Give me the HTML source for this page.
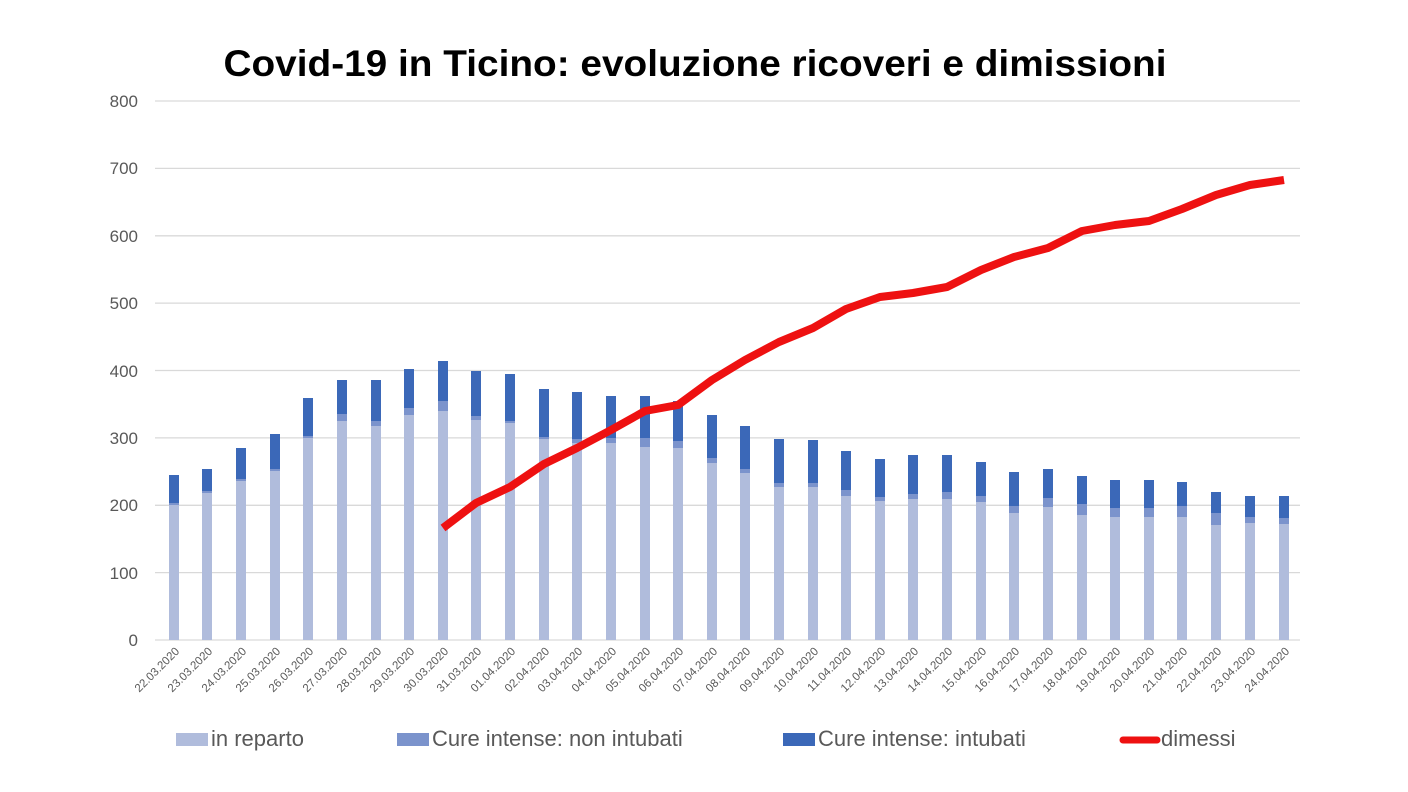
<!DOCTYPE html>
<html><head><meta charset="utf-8"><style>
html,body{margin:0;padding:0;background:#fff;}
svg{display:block;font-family:"Liberation Sans",sans-serif;}
</style></head><body>
<svg width="1408" height="792" viewBox="0 0 1408 792" xmlns="http://www.w3.org/2000/svg">
<rect width="1408" height="792" fill="#fff"/>
<text x="695" y="76" text-anchor="middle" font-size="37" font-weight="bold" fill="#000" textLength="943" lengthAdjust="spacingAndGlyphs">Covid-19 in Ticino: evoluzione ricoveri e  dimissioni</text>
<g stroke="#d9d9d9" stroke-width="1.3">
<line x1="155" x2="1300" y1="101" y2="101"/><line x1="155" x2="1300" y1="168.4" y2="168.4"/>
<line x1="155" x2="1300" y1="235.8" y2="235.8"/><line x1="155" x2="1300" y1="303.1" y2="303.1"/>
<line x1="155" x2="1300" y1="370.5" y2="370.5"/><line x1="155" x2="1300" y1="437.9" y2="437.9"/>
<line x1="155" x2="1300" y1="505.3" y2="505.3"/><line x1="155" x2="1300" y1="572.6" y2="572.6"/>
<line x1="155" x2="1300" y1="640" y2="640"/>
</g>
<g font-size="17" fill="#595959" text-anchor="end">
<text x="138" y="107">800</text><text x="138" y="174">700</text><text x="138" y="242">600</text>
<text x="138" y="309">500</text><text x="138" y="377">400</text><text x="138" y="444">300</text>
<text x="138" y="511">200</text><text x="138" y="579">100</text><text x="138" y="646">0</text>
</g>
<g id="bars">
<rect x="169" y="505" width="10" height="135" fill="#b0bcdc"/><rect x="169" y="503" width="10" height="2" fill="#7b93cc"/><rect x="169" y="475" width="10" height="28" fill="#3b68b8"/>
<rect x="202" y="493" width="10" height="147" fill="#b0bcdc"/><rect x="202" y="491" width="10" height="2" fill="#7b93cc"/><rect x="202" y="469" width="10" height="22" fill="#3b68b8"/>
<rect x="236" y="481" width="10" height="159" fill="#b0bcdc"/><rect x="236" y="479" width="10" height="2" fill="#7b93cc"/><rect x="236" y="448" width="10" height="31" fill="#3b68b8"/>
<rect x="270" y="471" width="10" height="169" fill="#b0bcdc"/><rect x="270" y="469" width="10" height="2" fill="#7b93cc"/><rect x="270" y="434" width="10" height="35" fill="#3b68b8"/>
<rect x="303" y="438" width="10" height="202" fill="#b0bcdc"/><rect x="303" y="436" width="10" height="2" fill="#7b93cc"/><rect x="303" y="398" width="10" height="38" fill="#3b68b8"/>
<rect x="337" y="421" width="10" height="219" fill="#b0bcdc"/><rect x="337" y="414" width="10" height="7" fill="#7b93cc"/><rect x="337" y="380" width="10" height="34" fill="#3b68b8"/>
<rect x="371" y="426" width="10" height="214" fill="#b0bcdc"/><rect x="371" y="421" width="10" height="5" fill="#7b93cc"/><rect x="371" y="380" width="10" height="41" fill="#3b68b8"/>
<rect x="404" y="415" width="10" height="225" fill="#b0bcdc"/><rect x="404" y="408" width="10" height="7" fill="#7b93cc"/><rect x="404" y="369" width="10" height="39" fill="#3b68b8"/>
<rect x="438" y="411" width="10" height="229" fill="#b0bcdc"/><rect x="438" y="401" width="10" height="10" fill="#7b93cc"/><rect x="438" y="361" width="10" height="40" fill="#3b68b8"/>
<rect x="471" y="420" width="10" height="220" fill="#b0bcdc"/><rect x="471" y="416" width="10" height="4" fill="#7b93cc"/><rect x="471" y="371" width="10" height="45" fill="#3b68b8"/>
<rect x="505" y="423" width="10" height="217" fill="#b0bcdc"/><rect x="505" y="421" width="10" height="2" fill="#7b93cc"/><rect x="505" y="374" width="10" height="47" fill="#3b68b8"/>
<rect x="539" y="439" width="10" height="201" fill="#b0bcdc"/><rect x="539" y="437" width="10" height="2" fill="#7b93cc"/><rect x="539" y="389" width="10" height="48" fill="#3b68b8"/>
<rect x="572" y="443" width="10" height="197" fill="#b0bcdc"/><rect x="572" y="439" width="10" height="4" fill="#7b93cc"/><rect x="572" y="392" width="10" height="47" fill="#3b68b8"/>
<rect x="606" y="443" width="10" height="197" fill="#b0bcdc"/><rect x="606" y="438" width="10" height="5" fill="#7b93cc"/><rect x="606" y="396" width="10" height="42" fill="#3b68b8"/>
<rect x="640" y="447" width="10" height="193" fill="#b0bcdc"/><rect x="640" y="438" width="10" height="9" fill="#7b93cc"/><rect x="640" y="396" width="10" height="42" fill="#3b68b8"/>
<rect x="673" y="448" width="10" height="192" fill="#b0bcdc"/><rect x="673" y="441" width="10" height="7" fill="#7b93cc"/><rect x="673" y="401" width="10" height="40" fill="#3b68b8"/>
<rect x="707" y="463" width="10" height="177" fill="#b0bcdc"/><rect x="707" y="458" width="10" height="5" fill="#7b93cc"/><rect x="707" y="415" width="10" height="43" fill="#3b68b8"/>
<rect x="740" y="473" width="10" height="167" fill="#b0bcdc"/><rect x="740" y="469" width="10" height="4" fill="#7b93cc"/><rect x="740" y="426" width="10" height="43" fill="#3b68b8"/>
<rect x="774" y="487" width="10" height="153" fill="#b0bcdc"/><rect x="774" y="483" width="10" height="4" fill="#7b93cc"/><rect x="774" y="439" width="10" height="44" fill="#3b68b8"/>
<rect x="808" y="487" width="10" height="153" fill="#b0bcdc"/><rect x="808" y="483" width="10" height="4" fill="#7b93cc"/><rect x="808" y="440" width="10" height="43" fill="#3b68b8"/>
<rect x="841" y="496" width="10" height="144" fill="#b0bcdc"/><rect x="841" y="490" width="10" height="6" fill="#7b93cc"/><rect x="841" y="451" width="10" height="39" fill="#3b68b8"/>
<rect x="875" y="501" width="10" height="139" fill="#b0bcdc"/><rect x="875" y="497" width="10" height="4" fill="#7b93cc"/><rect x="875" y="459" width="10" height="38" fill="#3b68b8"/>
<rect x="908" y="499" width="10" height="141" fill="#b0bcdc"/><rect x="908" y="494" width="10" height="5" fill="#7b93cc"/><rect x="908" y="455" width="10" height="39" fill="#3b68b8"/>
<rect x="942" y="499" width="10" height="141" fill="#b0bcdc"/><rect x="942" y="492" width="10" height="7" fill="#7b93cc"/><rect x="942" y="455" width="10" height="37" fill="#3b68b8"/>
<rect x="976" y="502" width="10" height="138" fill="#b0bcdc"/><rect x="976" y="496" width="10" height="6" fill="#7b93cc"/><rect x="976" y="462" width="10" height="34" fill="#3b68b8"/>
<rect x="1009" y="513" width="10" height="127" fill="#b0bcdc"/><rect x="1009" y="506" width="10" height="7" fill="#7b93cc"/><rect x="1009" y="472" width="10" height="34" fill="#3b68b8"/>
<rect x="1043" y="507" width="10" height="133" fill="#b0bcdc"/><rect x="1043" y="498" width="10" height="9" fill="#7b93cc"/><rect x="1043" y="469" width="10" height="29" fill="#3b68b8"/>
<rect x="1077" y="515" width="10" height="125" fill="#b0bcdc"/><rect x="1077" y="504" width="10" height="11" fill="#7b93cc"/><rect x="1077" y="476" width="10" height="28" fill="#3b68b8"/>
<rect x="1110" y="517" width="10" height="123" fill="#b0bcdc"/><rect x="1110" y="508" width="10" height="9" fill="#7b93cc"/><rect x="1110" y="480" width="10" height="28" fill="#3b68b8"/>
<rect x="1144" y="517" width="10" height="123" fill="#b0bcdc"/><rect x="1144" y="508" width="10" height="9" fill="#7b93cc"/><rect x="1144" y="480" width="10" height="28" fill="#3b68b8"/>
<rect x="1177" y="517" width="10" height="123" fill="#b0bcdc"/><rect x="1177" y="506" width="10" height="11" fill="#7b93cc"/><rect x="1177" y="482" width="10" height="24" fill="#3b68b8"/>
<rect x="1211" y="525" width="10" height="115" fill="#b0bcdc"/><rect x="1211" y="513" width="10" height="12" fill="#7b93cc"/><rect x="1211" y="492" width="10" height="21" fill="#3b68b8"/>
<rect x="1245" y="523" width="10" height="117" fill="#b0bcdc"/><rect x="1245" y="517" width="10" height="6" fill="#7b93cc"/><rect x="1245" y="496" width="10" height="21" fill="#3b68b8"/>
<rect x="1279" y="524" width="10" height="116" fill="#b0bcdc"/><rect x="1279" y="518" width="10" height="6" fill="#7b93cc"/><rect x="1279" y="496" width="10" height="22" fill="#3b68b8"/>
</g>
<polyline fill="none" stroke="#ee1111" stroke-width="8" stroke-linejoin="round" points="443,528 476,503 510,487 544,464 577,448 611,430 645,411 678,405 712,380 745,360 779,342 813,328 846,309 880,297 913,293 947,287 981,270 1014,257 1048,248 1082,231 1115,225 1149,221 1182,209 1216,195 1250,185 1284,180"/>
<g font-size="11.5" fill="#595959" text-anchor="end">
<text transform="translate(180,652) rotate(-45)">22.03.2020</text>
<text transform="translate(213,652) rotate(-45)">23.03.2020</text>
<text transform="translate(247,652) rotate(-45)">24.03.2020</text>
<text transform="translate(281,652) rotate(-45)">25.03.2020</text>
<text transform="translate(314,652) rotate(-45)">26.03.2020</text>
<text transform="translate(348,652) rotate(-45)">27.03.2020</text>
<text transform="translate(382,652) rotate(-45)">28.03.2020</text>
<text transform="translate(415,652) rotate(-45)">29.03.2020</text>
<text transform="translate(449,652) rotate(-45)">30.03.2020</text>
<text transform="translate(482,652) rotate(-45)">31.03.2020</text>
<text transform="translate(516,652) rotate(-45)">01.04.2020</text>
<text transform="translate(550,652) rotate(-45)">02.04.2020</text>
<text transform="translate(583,652) rotate(-45)">03.04.2020</text>
<text transform="translate(617,652) rotate(-45)">04.04.2020</text>
<text transform="translate(651,652) rotate(-45)">05.04.2020</text>
<text transform="translate(684,652) rotate(-45)">06.04.2020</text>
<text transform="translate(718,652) rotate(-45)">07.04.2020</text>
<text transform="translate(751,652) rotate(-45)">08.04.2020</text>
<text transform="translate(785,652) rotate(-45)">09.04.2020</text>
<text transform="translate(819,652) rotate(-45)">10.04.2020</text>
<text transform="translate(852,652) rotate(-45)">11.04.2020</text>
<text transform="translate(886,652) rotate(-45)">12.04.2020</text>
<text transform="translate(919,652) rotate(-45)">13.04.2020</text>
<text transform="translate(953,652) rotate(-45)">14.04.2020</text>
<text transform="translate(987,652) rotate(-45)">15.04.2020</text>
<text transform="translate(1020,652) rotate(-45)">16.04.2020</text>
<text transform="translate(1054,652) rotate(-45)">17.04.2020</text>
<text transform="translate(1088,652) rotate(-45)">18.04.2020</text>
<text transform="translate(1121,652) rotate(-45)">19.04.2020</text>
<text transform="translate(1155,652) rotate(-45)">20.04.2020</text>
<text transform="translate(1188,652) rotate(-45)">21.04.2020</text>
<text transform="translate(1222,652) rotate(-45)">22.04.2020</text>
<text transform="translate(1256,652) rotate(-45)">23.04.2020</text>
<text transform="translate(1290,652) rotate(-45)">24.04.2020</text>
</g>
<g font-size="22" fill="#595959">
<rect x="176" y="733" width="32" height="13" fill="#b0bcdc"/><text x="211" y="746">in reparto</text>
<rect x="397" y="733" width="32" height="13" fill="#7b93cc"/><text x="432" y="746">Cure intense: non intubati</text>
<rect x="783" y="733" width="32" height="13" fill="#3b68b8"/><text x="818" y="746">Cure intense: intubati</text>
<line x1="1123" y1="740" x2="1157" y2="740" stroke="#ee1111" stroke-width="7" stroke-linecap="round"/><text x="1161" y="746">dimessi</text>
</g>
</svg>
</body></html>
